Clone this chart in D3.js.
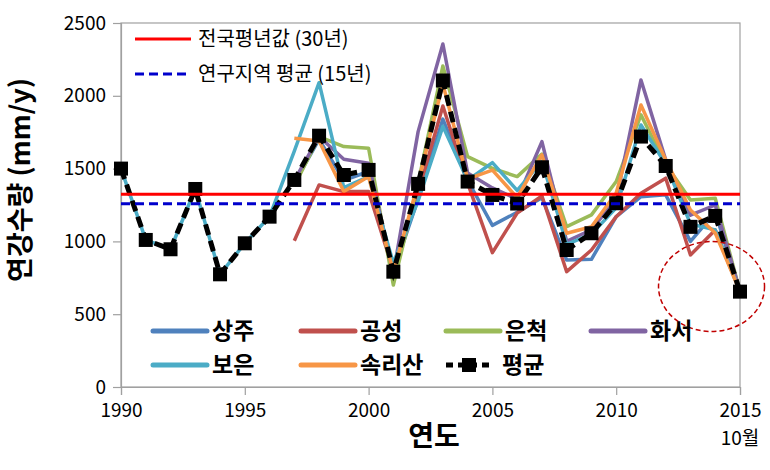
<!DOCTYPE html>
<html>
<head>
<meta charset="utf-8">
<script src="https://cdn.jsdelivr.net/npm/d3@7"></script>
<style>
  body { margin: 0; background: #fff; }
  text { font-family: "Noto Sans CJK KR", "Noto Sans", sans-serif; }
</style>
</head>
<body>
<svg width="770" height="470"></svg>
<script>
var years = d3.range(1990, 2016);

// annual precipitation (mm/y), null = no record
var sangju   = [null,null,null,null,null,null,null,1400,1700,1420,1480,790,1290,1840,1420,1110,1200,1300,872,877,1170,1307,1320,1000,1200,655];
var gongseong= [null,null,null,null,null,null,null,1005,1388,1342,1342,800,1333,1930,1400,923,1195,1312,792,941,1170,1331,1434,907,1079,655];
var euncheok = [null,null,null,null,null,null,null,1380,1720,1651,1640,700,1400,2205,1582,1502,1445,1600,1101,1182,1411,1869,1530,1285,1296,655];
var hwaseo   = [null,null,null,null,null,null,null,1420,1720,1564,1537,780,1754,2356,1470,1367,1290,1685,1000,1080,1290,2109,1560,1180,1250,655];
var boeun    = [1500,1010,946,1360,774,987,1170,1620,2090,1370,1445,850,1280,1790,1420,1541,1350,1550,980,1050,1230,1800,1530,1120,1079,655];
var songnisan= [null,null,null,null,null,null,null,1708,1690,1342,1445,790,1400,2080,1430,1490,1300,1594,1056,1101,1333,1937,1560,1216,1058,655];
var average  = [1500,1010,946,1360,774,987,1170,1422,1726,1456,1491,792,1395,2105,1411,1319,1260,1509,941,1056,1262,1720,1518,1100,1175,655];

var nationalNormal = 1324;   // 전국평년값 (30년)
var studyAreaMean = 1258;    // 연구지역 평균 (15년)

var yTicks = [0, 500, 1000, 1500, 2000, 2500];
var xTicks = [1990, 1995, 2000, 2005, 2010, 2015];

var seriesNames = ["상주", "공성", "은척", "화서", "보은", "속리산"];
var seriesData = [sangju, gongseong, euncheok, hwaseo, boeun, songnisan];
var seriesColors = ["#4F81BD", "#C0504D", "#9BBB59", "#8064A2", "#4BACC6", "#F79646"];

var svg = d3.select("svg");
var margin = {top: 23, right: 30, bottom: 83, left: 121};
var width = 740 - margin.left;
var height = 387 - margin.top;

var g = svg.append("g").attr("transform", "translate(" + margin.left + "," + margin.top + ")");

var x = d3.scaleLinear().domain([1990, 2015]).range([0, width]);
var y = d3.scaleLinear().domain([0, 2500]).range([height, 0]);

// plot box
g.append("rect")
    .attr("x", 0).attr("y", 0)
    .attr("width", width).attr("height", height)
    .attr("fill", "none")
    .attr("stroke", "#A0A0A0")
    .attr("stroke-width", 1.2);

var yAxis = g.append("g")
    .call(d3.axisLeft(y).tickValues(yTicks).tickSize(8).tickPadding(7).tickFormat(d3.format("d")));
var xAxis = g.append("g")
    .attr("transform", "translate(0," + height + ")")
    .call(d3.axisBottom(x).tickValues(xTicks).tickSize(8).tickPadding(9).tickFormat(d3.format("d")));

[xAxis, yAxis].forEach(function(a) {
    a.select(".domain").attr("stroke", "#A0A0A0").attr("stroke-width", 1.2);
    a.selectAll(".tick line").attr("stroke", "#A0A0A0").attr("stroke-width", 1.2);
    a.selectAll(".tick text").attr("fill", "#000").style("font-size", "19px");
});

// second line under the last x tick
svg.append("text")
    .attr("x", margin.left + x(2015)).attr("y", 438).attr("dy", "0.35em")
    .attr("text-anchor", "middle")
    .style("font-size", "19px")
    .text("10월");

var line = d3.line()
    .defined(function(d) { return d != null; })
    .x(function(d, i) { return x(years[i]); })
    .y(function(d) { return y(d); });

seriesData.forEach(function(s, i) {
    g.append("path")
        .datum(s)
        .attr("fill", "none")
        .attr("stroke", seriesColors[i])
        .attr("stroke-width", 3.5)
        .attr("stroke-linejoin", "round")
        .attr("d", line);
});

g.append("path")
    .datum(average)
    .attr("fill", "none")
    .attr("stroke", "#000")
    .attr("stroke-width", 5)
    .attr("stroke-dasharray", "11,6")
    .attr("d", line);

g.selectAll(".mk")
    .data(average)
    .enter().append("rect")
    .attr("class", "mk")
    .attr("x", function(d, i) { return x(years[i]) - 7; })
    .attr("y", function(d) { return y(d) - 7; })
    .attr("width", 14)
    .attr("height", 14)
    .attr("fill", "#000");

// reference lines
g.append("line")
    .attr("x1", 0).attr("x2", width)
    .attr("y1", y(nationalNormal)).attr("y2", y(nationalNormal))
    .attr("stroke", "#FF0000").attr("stroke-width", 3);
g.append("line")
    .attr("x1", 0).attr("x2", width)
    .attr("y1", y(studyAreaMean)).attr("y2", y(studyAreaMean))
    .attr("stroke", "#0000CC").attr("stroke-width", 3)
    .attr("stroke-dasharray", "9,5");

// highlight circle
g.append("ellipse")
    .attr("cx", x(2013.85))
    .attr("cy", y(690))
    .attr("rx", 53).attr("ry", 45)
    .attr("fill", "none")
    .attr("stroke", "#C00000")
    .attr("stroke-width", 1.5)
    .attr("stroke-dasharray", "5,3");

// top legend
svg.append("line").attr("x1", 135).attr("x2", 191).attr("y1", 39).attr("y2", 39)
    .attr("stroke", "#FF0000").attr("stroke-width", 3);
svg.append("text").attr("x", 198).attr("y", 39).attr("dy", "0.35em")
    .style("font-size", "20px").text("전국평년값 (30년)");
svg.append("line").attr("x1", 135).attr("x2", 191).attr("y1", 74).attr("y2", 74)
    .attr("stroke", "#0000CC").attr("stroke-width", 3).attr("stroke-dasharray", "9,5");
svg.append("text").attr("x", 198).attr("y", 74).attr("dy", "0.35em")
    .style("font-size", "20px").text("연구지역 평균 (15년)");

// bottom legend
var legPos = [[153, 331], [301, 331], [446, 331], [591, 331], [153, 365], [301, 365]];
seriesNames.forEach(function(n, i) {
    svg.append("line")
        .attr("x1", legPos[i][0]).attr("x2", legPos[i][0] + 54)
        .attr("y1", legPos[i][1]).attr("y2", legPos[i][1])
        .attr("stroke", seriesColors[i]).attr("stroke-width", 5)
        .attr("stroke-linecap", "round");
    svg.append("text")
        .attr("x", legPos[i][0] + 59).attr("y", legPos[i][1]).attr("dy", "0.35em")
        .style("font-size", "23px").style("font-weight", "bold")
        .text(n);
});
svg.append("line")
    .attr("x1", 446).attr("x2", 491).attr("y1", 365).attr("y2", 365)
    .attr("stroke", "#000").attr("stroke-width", 5).attr("stroke-dasharray", "7,5");
svg.append("rect").attr("x", 462).attr("y", 358).attr("width", 14).attr("height", 14).attr("fill", "#000");
svg.append("text")
    .attr("x", 502).attr("y", 365).attr("dy", "0.35em")
    .style("font-size", "23px").style("font-weight", "bold")
    .text("평균");

// axis titles
svg.append("text")
    .attr("x", 434).attr("y", 436).attr("dy", "0.35em")
    .attr("text-anchor", "middle")
    .style("font-size", "28px").style("font-weight", "bold")
    .text("연도");
svg.append("text")
    .attr("transform", "translate(21,180) rotate(-90)")
    .attr("text-anchor", "middle").attr("dy", "0.35em")
    .style("font-size", "27px").style("font-weight", "bold")
    .text("연강수량 (mm/y)");
</script>
</body>
</html>
